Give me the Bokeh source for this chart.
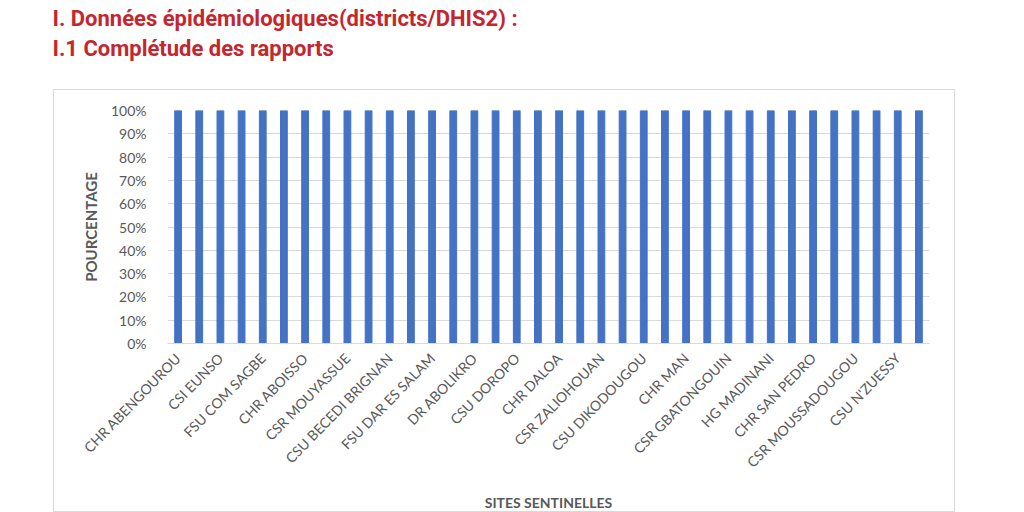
from bokeh.plotting import figure
from bokeh.layouts import column, row
from bokeh.models import Range1d, FixedTicker, PrintfTickFormatter, Label, Spacer
from bokeh.embed import file_html
from bokeh.resources import INLINE

title_line1 = "I. Données épidémiologiques(districts/DHIS2) :"
title_line2 = "I.1  Complétude des rapports"
y_title = "POURCENTAGE"
x_title = "SITES SENTINELLES"

# Only every other site name is printed on the axis of the original chart
site_labels = [
    "CHR ABENGOUROU", "CSI EUNSO", "FSU COM SAGBE", "CHR ABOISSO",
    "CSR MOUYASSUE", "CSU BECEDI BRIGNAN", "FSU DAR ES SALAM", "DR ABOLIKRO",
    "CSU DOROPO", "CHR DALOA", "CSR ZALIOHOUAN", "CSU DIKODOUGOU",
    "CHR MAN", "CSR GBATONGOUIN", "HG MADINANI", "CHR SAN PEDRO",
    "CSR MOUSSADOUGOU", "CSU N'ZUESSY",
]

# Completeness (%) for the 36 sentinel sites
completude = [100, 100, 100, 100, 100, 100, 100, 100, 100, 100, 100, 100,
              100, 100, 100, 100, 100, 100, 100, 100, 100, 100, 100, 100,
              100, 100, 100, 100, 100, 100, 100, 100, 100, 100, 100, 100]

y_ticks = [0, 10, 20, 30, 40, 50, 60, 70, 80, 90, 100]

positions = list(range(1, len(completude) + 1))
label_positions = positions[0::2]

TXT = "#595959"
GRID = "#D9D9D9"
BLUE = "#4472C4"
RED = "#C4262E"
FONT = "Lato"

# ---- heading strip ----
head = figure(width=1024, height=89, output_backend="svg", toolbar_location=None,
              x_range=Range1d(0, 1024), y_range=Range1d(89, 0), min_border=0)
head.axis.visible = False
head.grid.visible = False
head.outline_line_color = None
for txt, yy in [(title_line1, 18), (title_line2, 48)]:
    head.add_layout(Label(x=52, y=yy, text=txt,
                          text_font="Roboto", text_font_style="bold",
                          text_font_size="22px", text_color=RED,
                          text_baseline="middle", text_align="left"))

# ---- chart ----
p = figure(width=902, height=423, output_backend="svg", toolbar_location=None,
           x_range=Range1d(0.5, len(completude) + 0.5), y_range=Range1d(0, 100),
           min_border_left=113, min_border_right=27, min_border_top=20,
           min_border_bottom=167)
p.outline_line_color = None
p.styles = {"border": "1px solid #D9D9D9"}

p.vbar(x=positions, top=completude, width=0.32, color=BLUE)

# Y axis
p.yaxis.ticker = FixedTicker(ticks=y_ticks)
p.yaxis.formatter = PrintfTickFormatter(format="%d%%")
p.yaxis.axis_line_color = None
p.yaxis.major_tick_line_color = None
p.yaxis.minor_tick_line_color = None
p.yaxis.major_label_standoff = 15
p.yaxis.major_label_text_font = FONT
p.yaxis.major_label_text_font_size = "14px"
p.yaxis.major_label_text_color = TXT
p.yaxis.axis_label = y_title
p.yaxis.axis_label_text_font = FONT
p.yaxis.axis_label_text_font_size = "15px"
p.yaxis.axis_label_text_font_style = "bold"
p.yaxis.axis_label_text_color = TXT
p.yaxis.axis_label_standoff = 8

# X axis
p.xaxis.ticker = FixedTicker(ticks=label_positions)
p.xaxis.major_label_overrides = {pos: name for pos, name in zip(label_positions, site_labels)}
p.xaxis.major_label_orientation = 0.8
p.xaxis.axis_line_color = GRID
p.xaxis.major_tick_line_color = None
p.xaxis.minor_tick_line_color = None
p.xaxis.major_label_standoff = 6
p.xaxis.major_label_text_font = FONT
p.xaxis.major_label_text_font_size = "14px"
p.xaxis.major_label_text_color = TXT
p.xaxis.axis_label = x_title
p.xaxis.axis_label_text_font = FONT
p.xaxis.axis_label_text_font_size = "14px"
p.xaxis.axis_label_text_font_style = "bold"
p.xaxis.axis_label_text_color = TXT
p.xaxis.axis_label_standoff = 14

p.xgrid.grid_line_color = None
p.ygrid.grid_line_color = GRID
p.ygrid.grid_line_width = 1

layout = column(head, row(Spacer(width=53, height=423), p))
open("out.html", "w").write(file_html(layout, INLINE))
